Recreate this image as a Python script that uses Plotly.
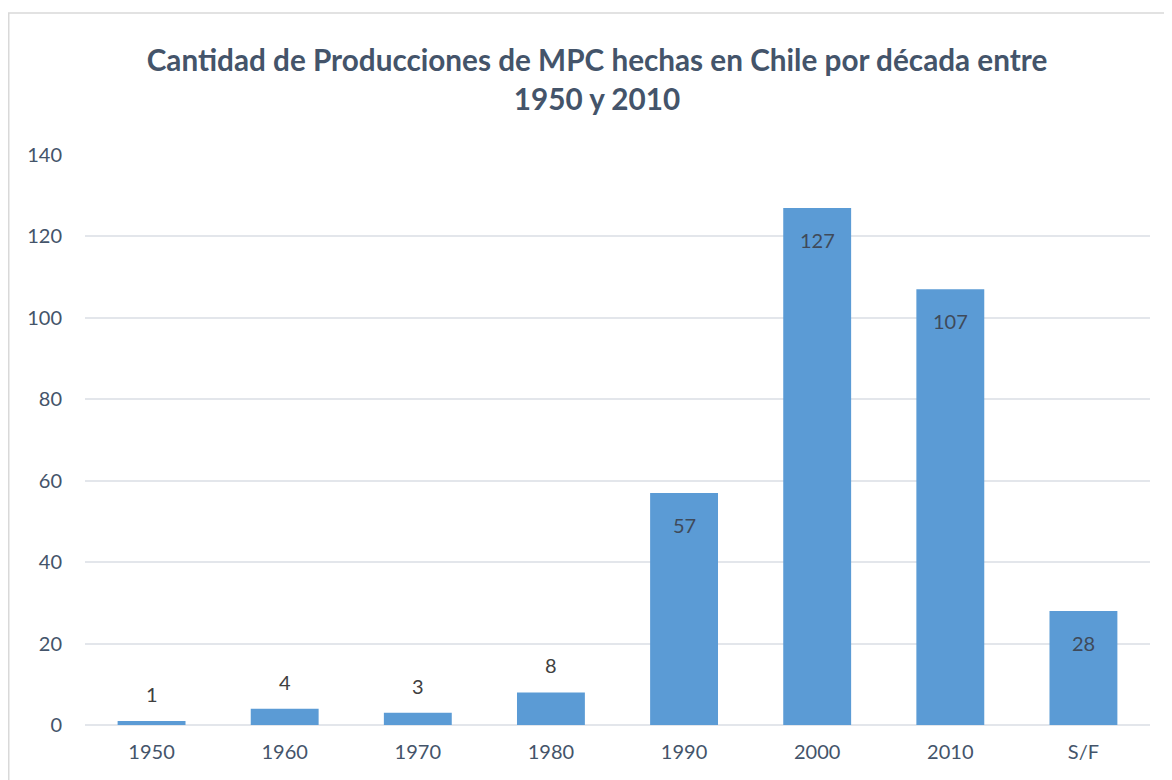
import plotly.graph_objects as go

categories = ["1950", "1960", "1970", "1980", "1990", "2000", "2010", "S/F"]
values = [1, 4, 3, 8, 57, 127, 107, 28]
y_ticks = [0, 20, 40, 60, 80, 100, 120, 140]

title_color = "#44546A"
label_color = "#44546A"
bar_color = "#5B9BD5"
font_family = "Lato, 'Open Sans', sans-serif"

W, H = 1164, 772
L, R, T, B = 77, 22, 147, 55
pw, ph = W - L - R, H - T - B

fig = go.Figure()
fig.add_trace(go.Bar(
    x=categories, y=values,
    marker=dict(color=bar_color, line=dict(width=0)),
    width=0.51,
    hoverinfo="x+y",
))

annotations = []
for i, v in enumerate(values):
    inside = v >= 20
    annotations.append(dict(
        x=i, y=v, xref="x", yref="y", text=str(v), showarrow=False,
        yshift=-32 if inside else 27, yanchor="middle",
        font=dict(family=font_family, size=20, color="#3F4A5A" if inside else "#404040"),
    ))

fig.update_layout(
    width=W, height=H,
    paper_bgcolor="white", plot_bgcolor="white",
    margin=dict(l=L, r=R, t=T, b=B),
    font=dict(family=font_family, size=20, color=label_color),
    title=dict(
        text="<b>Cantidad de Producciones de MPC hechas en Chile por década entre<br>1950 y 2010</b>",
        x=589 / W, xanchor="center", y=1 - 63 / H, yanchor="middle",
        font=dict(family=font_family, size=29.7, color=title_color),
    ),
    showlegend=False,
    bargap=0.49,
    xaxis=dict(
        type="category", categoryorder="array", categoryarray=categories,
        range=[-0.5, len(categories) - 0.5],
        showgrid=False, zeroline=False, showline=False,
        ticks="", ticklabelstandoff=13, tickfont=dict(size=20, color=label_color),
    ),
    yaxis=dict(
        range=[0, 140], tickvals=y_ticks, showgrid=True, gridcolor="#E3E6EB",
        gridwidth=1.5, zeroline=True, zerolinecolor="#E3E6EB", zerolinewidth=1.5,
        showline=False, ticks="", ticklabelstandoff=22, tickfont=dict(size=20, color=label_color),
    ),
    annotations=annotations,
    shapes=[dict(
        type="rect", xref="paper", yref="paper",
        x0=(0.75 - L) / pw, x1=(W - 2 - L) / pw,
        y0=-80 / ph, y1=(H - B - 5) / ph,
        line=dict(color="#D9D9D9", width=1.5), fillcolor="rgba(0,0,0,0)", layer="below",
    )],
)

fig.write_html("out.html")
